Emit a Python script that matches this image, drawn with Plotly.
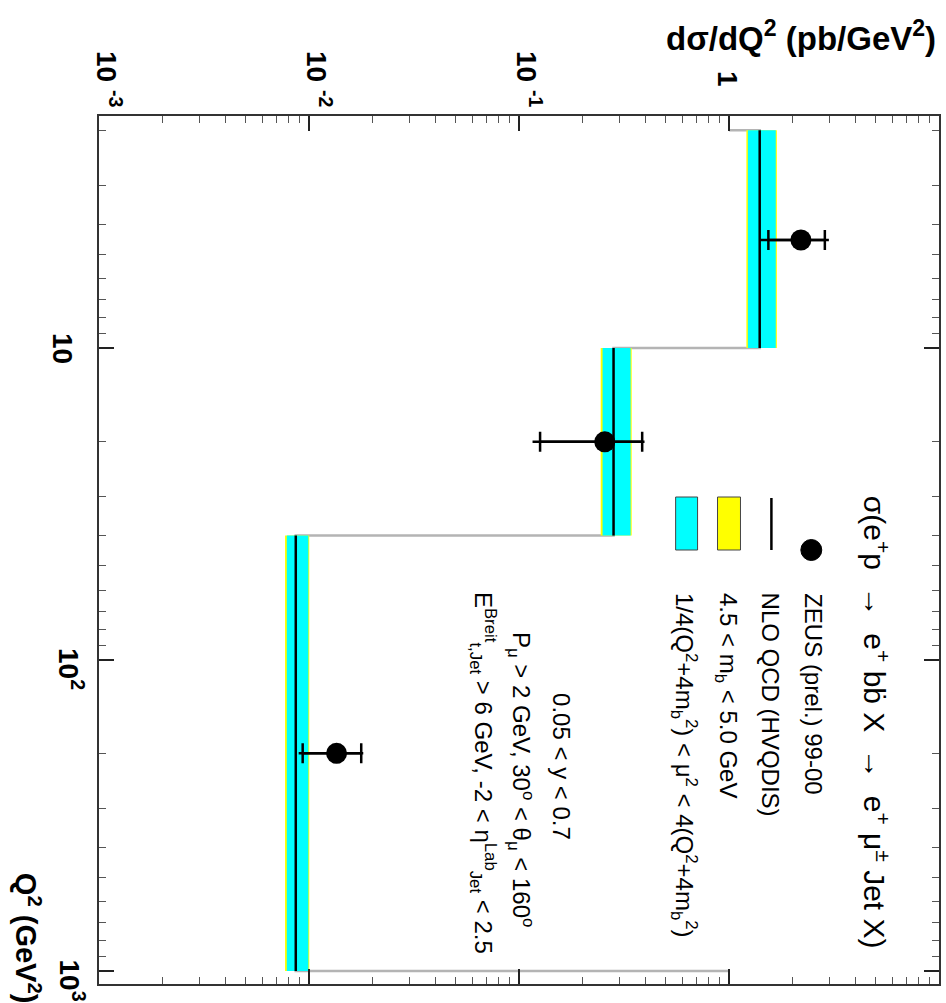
import math
import plotly.graph_objects as go

# ---------------- data ----------------
q2_edges = [2, 10, 40, 1000]                 # Q^2 bin edges (GeV^2)
nlo_central = [1.40, 0.282, 0.00865]         # NLO QCD (HVQDIS) central
nlo_scale_lo = [1.23, 0.250, 0.00784]        # scale variation band (cyan)
nlo_scale_hi = [1.67, 0.340, 0.00993]
nlo_mass_lo = [1.21, 0.245, 0.00769]         # m_b variation band (yellow)
nlo_mass_hi = [1.69, 0.344, 0.01003]
hist_baseline = 1.0

zeus_q2 = [4.5, 20.0, 200.0]
zeus_xsec = [2.20, 0.256, 0.01353]
zeus_stat = [0.66, 0.13, 0.0042]
zeus_tot = [0.79, 0.14, 0.0046]

x_tick_vals = [-3, -2, -1, 0]
x_tick_text = ["10 <sup>-3</sup>", "10 <sup>-2</sup>", "10 <sup>-1</sup>", "1"]
y_tick_vals = [1, 2, 3]
y_tick_text = ["10", "10<sup>2</sup>", "10<sup>3</sup>"]

FONT = "Liberation Sans, Arial, sans-serif"

fig = go.Figure()

# gray histogram outline
sx, sy = [hist_baseline], [q2_edges[0]]
for i, c in enumerate(nlo_central):
    sx += [c, c]
    sy += [q2_edges[i], q2_edges[i + 1]]
sx.append(hist_baseline)
sy.append(q2_edges[-1])
fig.add_trace(go.Scatter(x=sx, y=sy, mode="lines",
                         line=dict(color="#b4b4b4", width=2.5), hoverinfo="skip"))

def band(lo, hi, color):
    for i in range(len(lo)):
        y0, y1 = q2_edges[i], q2_edges[i + 1]
        fig.add_trace(go.Scatter(x=[lo[i], hi[i], hi[i], lo[i], lo[i]],
                                 y=[y0, y0, y1, y1, y0],
                                 mode="lines", fill="toself", fillcolor=color,
                                 line=dict(width=0, color=color), hoverinfo="skip"))

band(nlo_mass_lo, nlo_mass_hi, "#ffff00")
band(nlo_scale_lo, nlo_scale_hi, "#00ffff")

cx, cy = [], []
for i, c in enumerate(nlo_central):
    cx += [c, c, None]
    cy += [q2_edges[i], q2_edges[i + 1], None]
fig.add_trace(go.Scatter(x=cx, y=cy, mode="lines",
                         line=dict(color="black", width=2.5), hoverinfo="skip"))

# ZEUS points: total error (no caps) and stat error (caps)
fig.add_trace(go.Scatter(x=zeus_xsec, y=zeus_q2, mode="markers",
                         marker=dict(size=0.1, color="black"),
                         error_x=dict(type="data", array=zeus_tot, width=0,
                                      thickness=2.5, color="black")))
fig.add_trace(go.Scatter(x=zeus_xsec, y=zeus_q2, mode="markers",
                         marker=dict(size=21, color="black", symbol="circle"),
                         error_x=dict(type="data", array=zeus_stat, width=10,
                                      thickness=2.5, color="black")))

# ---------------- layout ----------------
L, R, T, B = 99, 941, 116, 984
W, H = 946, 1003
pw, ph = R - L, B - T

def px(x):
    return (x - L) / pw

def py(y):
    return (B - y) / ph

fig.update_layout(
    width=W, height=H,
    margin=dict(l=L, r=W - R, t=T, b=H - B),
    paper_bgcolor="white", plot_bgcolor="white",
    showlegend=False,
    font=dict(family=FONT, color="black"),
    xaxis=dict(type="log", range=[-3, 1], side="top", showgrid=False, zeroline=False,
               showticklabels=False, ticks="inside", ticklen=15, tickwidth=1.5,
               tickcolor="#222", dtick=1, showline=True, linecolor="#333",
               linewidth=2, mirror="ticks",
               minor=dict(ticks="inside", ticklen=7, tickwidth=1.2, tickcolor="#555",
                          dtick="D1", showgrid=False)),
    yaxis=dict(type="log", range=[math.log10(1100), math.log10(1.8)], showgrid=False,
               zeroline=False, showticklabels=False, ticks="inside", ticklen=15,
               tickwidth=1.5, tickcolor="#222", dtick=1, showline=True,
               linecolor="#333", linewidth=2, mirror="ticks",
               minor=dict(ticks="inside", ticklen=7, tickwidth=1.2, tickcolor="#555",
                          dtick="D1", showgrid=False)),
)

ann = []
# tick labels (rotated)
for v, t in zip(x_tick_vals, x_tick_text):
    ann.append(dict(x=v, xref="x", y=py(79), yref="paper", text=t, textangle=90,
                    showarrow=False, xanchor="center", yanchor="middle",
                    xshift=(10 if "sup" in t else -1),
                    font=dict(size=28, family=FONT, color="black", weight="bold")))
for v, t in zip(y_tick_vals, y_tick_text):
    has_sup = "sup" in t
    ann.append(dict(x=px(71.5 if has_sup else 63), xref="paper", y=v, yref="y", text=t,
                    textangle=90, showarrow=False, xanchor="center", yanchor="middle",
                    yshift=(-9 if has_sup else 0),
                    font=dict(size=28, family=FONT, color="black", weight="bold")))

# axis titles
ann.append(dict(x=px(940), y=py(36), xref="paper", yref="paper",
                text="dσ/dQ<sup>2</sup> (pb/GeV<sup>2</sup>)", showarrow=False,
                xanchor="right", yanchor="middle",
                font=dict(size=33, family=FONT, color="black", weight="bold")))
ann.append(dict(x=px(28), y=py(938), xref="paper", yref="paper",
                text="Q<sup>2</sup> (GeV<sup>2</sup>)", showarrow=False, textangle=90,
                xanchor="center", yanchor="middle",
                font=dict(size=29, family=FONT, color="black", weight="bold")))

# legend title and entries
ann.append(dict(x=px(878), y=py(722), xref="paper", yref="paper",
                text="σ(e<sup>+</sup>p  →  e<sup>+</sup> bb\u0307 X  →  e<sup>+</sup> μ<sup>±</sup> Jet X)",
                textangle=90, showarrow=False, xanchor="center", yanchor="middle",
                font=dict(size=30, family=FONT, color="black")))
leg_texts = [
    (815, "ZEUS (prel.) 99-00"),
    (773, "NLO QCD (HVQDIS)"),
    (728, "4.5 < m<sub>b</sub> < 5.0 GeV"),
    (686, "1/4(Q<sup>2</sup>+4m<sub>b</sub><sup>2</sup>) < μ<sup>2</sup> < 4(Q<sup>2</sup>+4m<sub>b</sub><sup>2</sup>)"),
]
for xx, t in leg_texts:
    ann.append(dict(x=px(xx), y=py(591), xref="paper", yref="paper", text=t,
                    textangle=90, showarrow=False, xanchor="center", yanchor="top",
                    font=dict(size=24, family=FONT, color="black")))

# cuts text
cuts = [
    (563, 767, "0.05 < y < 0.7"),
    (522, 780, "P<sub>μ</sub> > 2 GeV, 30<sup>o</sup> < θ<sub>μ</sub> < 160<sup>o</sup>"),
    (484, 773, "E<sup>Breit</sup><sub>t,Jet</sub> > 6 GeV, -2 < η<sup>Lab</sup><sub>Jet</sub> < 2.5"),
]
for xx, yy, t in cuts:
    ann.append(dict(x=px(xx), y=py(yy), xref="paper", yref="paper", text=t,
                    textangle=90, showarrow=False, xanchor="center", yanchor="middle",
                    font=dict(size=24, family=FONT, color="black")))

fig.update_layout(annotations=ann)

# legend swatches (paper coordinates)
shapes = [
    dict(type="circle", xref="paper", yref="paper", x0=px(802.5), x1=px(823.5),
         y0=py(560.5), y1=py(539.5), fillcolor="black", line=dict(color="black", width=1)),
    dict(type="line", xref="paper", yref="paper", x0=px(773), x1=px(773),
         y0=py(550), y1=py(498), line=dict(color="black", width=2.5)),
    dict(type="rect", xref="paper", yref="paper", x0=px(719), x1=px(742),
         y0=py(550), y1=py(497), fillcolor="#ffff00", line=dict(color="#444", width=1)),
    dict(type="rect", xref="paper", yref="paper", x0=px(677), x1=px(699),
         y0=py(550), y1=py(497), fillcolor="#00ffff", line=dict(color="#444", width=1)),
]
fig.update_layout(shapes=shapes)

fig.write_html("out.html", config={"displayModeBar": False},
               post_script="document.body.style.margin='0';document.body.style.overflow='hidden';")
